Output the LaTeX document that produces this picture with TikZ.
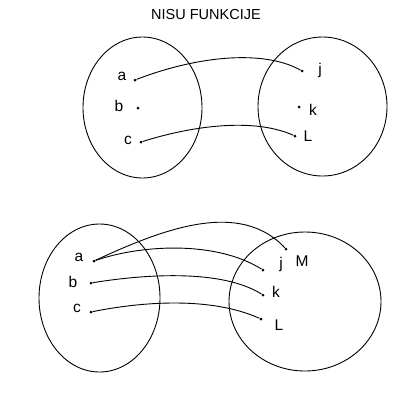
\documentclass[tikz,border=0pt]{standalone}
\usepackage{fontspec}
\setmainfont{Liberation Sans}
\begin{document}
\begin{tikzpicture}[x=1pt,y=-1pt,
  set/.style={draw=black,line width=0.9pt},
  pt/.style={circle,fill=black,inner sep=0pt,minimum size=3pt},
  lbl/.style={font=\fontsize{15.5}{17}\selectfont,inner sep=0pt},
  map/.style={draw=black,line width=0.9pt}]
\useasboundingbox (0,0) rectangle (417,405);
\node[font=\fontsize{14.5}{17}\selectfont] (title) at (206,15) {NISU FUNKCIJE};
% top sets
\draw[set] (142.5,107.5) ellipse [x radius=59.5, y radius=70.5];
\draw[set] (322.5,106.5) ellipse [x radius=64.5, y radius=69.5];
\node[pt] (ta) at (135,80) {};
\node[pt] (tb) at (138,108) {};
\node[pt] (tc) at (141,142) {};
\node[pt] (tj) at (302,71) {};
\node[pt] (tk) at (299,107) {};
\node[pt] (tL) at (295,136) {};
\node[lbl] (tla) at (122,76) {a};
\node[lbl] (tlb) at (119,106) {b};
\node[lbl] (tlc) at (128,140) {c};
\node[lbl] (tlj) at (320,70) {j};
\node[lbl] (tlk) at (313,110) {k};
\node[lbl] (tlL) at (308,136) {L};
\draw[map] (ta) .. controls (200,55) and (265,50) .. (tj);
\draw[map] (tc) .. controls (195,125) and (255,118) .. (tL);
% bottom sets
\draw[set] (99.5,298) ellipse [x radius=60.5, y radius=74];
\draw[set] (305,301.5) ellipse [x radius=76, y radius=69.5];
\node[pt] (ba) at (94,261) {};
\node[pt] (bb) at (91,283) {};
\node[pt] (bc) at (91,312) {};
\node[pt] (bM) at (286,249) {};
\node[pt] (bj) at (263,270) {};
\node[pt] (bk) at (263,295) {};
\node[pt] (bL) at (261,319) {};
\node[lbl] (bla) at (79,257) {a};
\node[lbl] (blb) at (73,282) {b};
\node[lbl] (blc) at (77,308) {c};
\node[lbl] (blM) at (302,261) {M};
\node[lbl] (blj) at (281,264) {j};
\node[lbl] (blk) at (276,292) {k};
\node[lbl] (blL) at (279,325) {L};
\draw[map] (ba) .. controls (165,228) and (240,200) .. (bM);
\draw[map] (ba) .. controls (140,245) and (215,240) .. (bj);
\draw[map] (bb) .. controls (140,275) and (220,268) .. (bk);
\draw[map] (bc) .. controls (140,302) and (210,296) .. (bL);
\end{tikzpicture}
\end{document}
